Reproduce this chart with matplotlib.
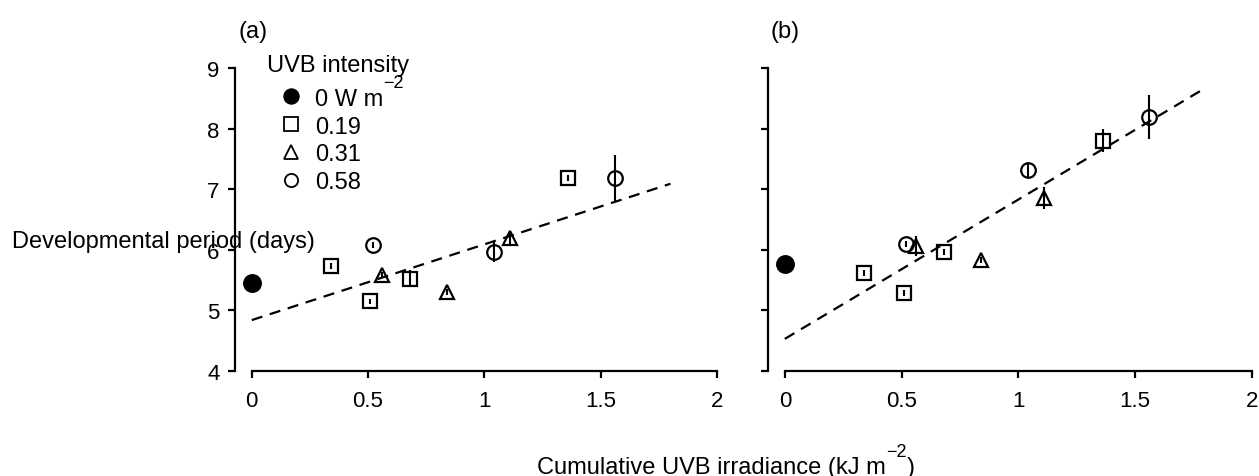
import numpy as np
import matplotlib.pyplot as plt
from matplotlib.lines import Line2D

plt.rcParams['font.family'] = ['Liberation Sans', 'DejaVu Sans']
plt.rcParams['font.size'] = 17

# UVB intensity groups: marker per group
groups = ['0', '0.19', '0.31', '0.58']
legend_labels = ['0 W m', '0.19', '0.31', '0.58']
markers = {'0': 'o', '0.19': 's', '0.31': '^', '0.58': 'o'}

# cumulative UVB irradiance (kJ m-2), same for both panels
point_group = ['0', '0.19', '0.19', '0.58', '0.31', '0.19', '0.31', '0.58', '0.31', '0.19', '0.58']
cum_uvb = [0.0, 0.34, 0.51, 0.52, 0.56, 0.68, 0.84, 1.04, 1.11, 1.36, 1.56]

# panel (a)
dev_a = [5.45, 5.74, 5.15, 6.08, 5.58, 5.52, 5.31, 5.97, 6.19, 7.19, 7.18]
err_a = [0.05, 0.05, 0.04, 0.05, 0.05, 0.14, 0.05, 0.17, 0.12, 0.05, 0.39]
fit_a = (4.84, 1.25)   # intercept, slope

# panel (b)
dev_b = [5.76, 5.62, 5.28, 6.10, 6.06, 5.97, 5.83, 7.31, 6.86, 7.80, 8.19]
err_b = [0.03, 0.05, 0.05, 0.05, 0.17, 0.05, 0.05, 0.13, 0.18, 0.19, 0.36]
fit_b = (4.53, 2.3)

fit_x = np.array([0.0, 1.8])
xticks = [0, 0.5, 1, 1.5, 2]
xtick_labels = ['0', '0.5', '1', '1.5', '2']
yticks = [4, 5, 6, 7, 8, 9]

W, H = 1259, 477
fig = plt.figure(figsize=(W / 100, H / 100), dpi=100)
ax_a = fig.add_axes([235 / W, 105 / H, (717 - 235) / W, 303 / H])
ax_b = fig.add_axes([768 / W, 105 / H, (1252 - 768) / W, 303 / H])
renderer = fig.canvas.get_renderer()


def px(x, y):
    # pixel position from top-left -> figure fraction
    return x / W, 1 - y / H


def draw_panel(ax, dev, err, fit):
    for g in groups:
        idx = [i for i, pg in enumerate(point_group) if pg == g]
        xs = [cum_uvb[i] for i in idx]
        ys = [dev[i] for i in idx]
        es = [err[i] for i in idx]
        ax.errorbar(xs, ys, yerr=es, fmt='none', ecolor='black', elinewidth=1.5,
                    capsize=0, zorder=2)
        face = 'black' if g == '0' else 'none'
        size = 12 if g == '0' else 10.5
        ax.plot(xs, ys, linestyle='none', marker=markers[g], markersize=size,
                markerfacecolor=face, markeredgecolor='black', markeredgewidth=1.6,
                zorder=3)
    ax.plot(fit_x, fit[0] + fit[1] * fit_x, color='black', linestyle=(0, (5, 3.5)),
            linewidth=1.6, zorder=1)
    ax.set_xlim(-0.072, 2.0)
    ax.set_ylim(4, 9)
    for s in ['top', 'right']:
        ax.spines[s].set_visible(False)
    ax.spines['left'].set_bounds(4, 9)
    ax.spines['bottom'].set_bounds(0, 2)
    for s in ['left', 'bottom']:
        ax.spines[s].set_linewidth(1.6)
    ax.set_xticks(xticks)
    ax.set_xticklabels(xtick_labels)
    ax.set_yticks(yticks)
    ax.tick_params(axis='both', direction='out', length=5, width=1.6, labelsize=16)
    ax.tick_params(axis='x', pad=9)
    ax.tick_params(axis='y', pad=6)


def text_with_sup(x, base, main, sup, tail='', size=17, supsize=13, rise=17, center=False):
    # main text, raised superscript, optional tail; x is left edge (or centre)
    pieces = [(main, size, 0), (sup, supsize, rise), (tail, size, 0)]
    widths = []
    for s, fs, _ in pieces:
        t = fig.text(0, 0, s, fontsize=fs)
        widths.append(t.get_window_extent(renderer).width if s else 0)
        t.remove()
    if center:
        x = x - sum(widths) / 2
    for (s, fs, r), w in zip(pieces, widths):
        if s:
            fig.text(*px(x, base - r), s, fontsize=fs, ha='left', va='baseline')
        x += w


draw_panel(ax_a, dev_a, err_a, fit_a)
draw_panel(ax_b, dev_b, err_b, fit_b)
ax_b.set_yticklabels([])

fig.text(*px(253, 32), '(a)', ha='center', va='center')
fig.text(*px(785, 32), '(b)', ha='center', va='center')

# legend, drawn by hand to match the spacing
fig.text(*px(267, 72), 'UVB intensity', ha='left', va='baseline')
leg_y = [97, 125, 153, 181]
for g, lab, yc in zip(groups, legend_labels, leg_y):
    face = 'black' if g == '0' else 'none'
    fig.add_artist(Line2D([291 / W], [1 - yc / H], transform=fig.transFigure,
                          linestyle='none', marker=markers[g],
                          markersize=10.5 if g == '0' else 9.5,
                          markerfacecolor=face, markeredgecolor='black',
                          markeredgewidth=1.3))
    if g == '0':
        text_with_sup(315, yc + 8.5, lab, '\u22122')
    else:
        fig.text(*px(315, yc + 8.5), lab, ha='left', va='baseline')

fig.text(*px(12, 248), 'Developmental period (days)', ha='left', va='baseline')
text_with_sup(726, 474, 'Cumulative UVB irradiance (kJ m', '\u22122', ')', center=True)

fig.savefig('out.png', dpi=100)
